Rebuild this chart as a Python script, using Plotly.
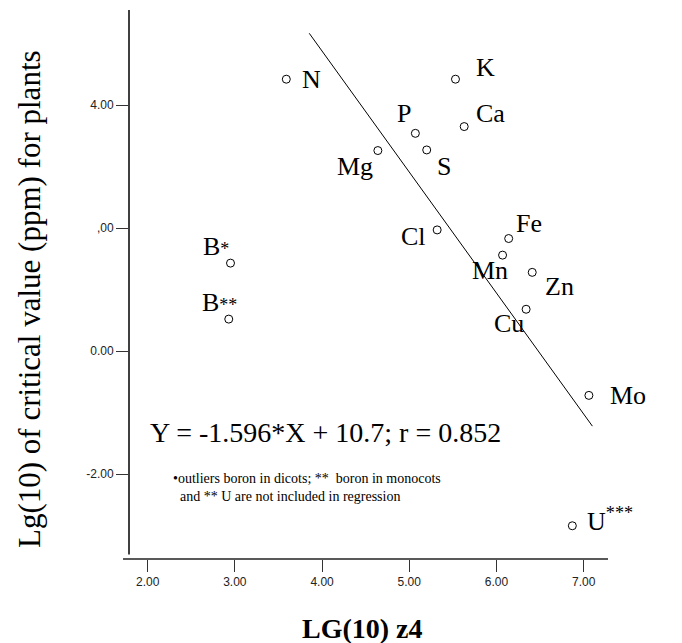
import plotly.graph_objects as go

# ---- data ----
elements = ["N", "K", "Ca", "P", "Mg", "S", "Cl", "Fe", "Mn", "Zn", "Cu", "Mo", "U", "B*", "B**"]
lg_z4 = [3.59, 5.53, 5.63, 5.07, 4.64, 5.20, 5.32, 6.14, 6.07, 6.41, 6.34, 7.06, 6.87, 2.95, 2.93]
lg_crit = [4.42, 4.42, 3.65, 3.54, 3.26, 3.27, 1.97, 1.83, 1.56, 1.28, 0.68, -0.72, -2.84, 1.43, 0.52]
label_text = ["N", "K", "Ca", "P", "Mg", "S", "Cl", "Fe", "Mn", "Zn", "Cu", "Mo",
              "U<sup>***</sup>",
              "B<span style='font-size:18px'>*</span>",
              "B<span style='font-size:18px'>**</span>"]

# regression line endpoints as drawn
reg_x = [3.853, 7.10]
reg_y = [5.166, -1.22]

x_tickvals = [2, 3, 4, 5, 6, 7]
x_ticktext = ["2.00", "3.00", "4.00", "5.00", "6.00", "7.00"]
y_tickvals = [4, 2, 0, -2]
y_ticktext = ["4.00", ",00", "0.00", "-2.00"]

equation_text = "Y = -1.596*X + 10.7; r = 0.852"
footnote_text = "•outliers boron in dicots; **  boron in monocots<br>  and ** U are not included in regression"

# ---- label placement (style only) ----
label_pos = {
    "N": ("left", 14, 0), "K": ("left", 19, 12), "Ca": ("left", 10, 13),
    "P": ("center", -11, 20), "Mg": ("right", -3, -16), "S": ("left", 8, -17),
    "Cl": ("right", -9, -7), "Fe": ("left", 5, 15), "Mn": ("right", 7, -15),
    "Zn": ("left", 11, -14), "Cu": ("right", 0, -14), "Mo": ("left", 19, 0),
    "U": ("left", 13, 6), "B*": ("left", -30, 17), "B**": ("left", -29, 17),
}

SERIF = "Liberation Serif"
SANS = "Liberation Sans"

fig = go.Figure()
fig.add_trace(go.Scatter(x=reg_x, y=reg_y, mode="lines",
                         line=dict(color="black", width=1), hoverinfo="skip"))
fig.add_trace(go.Scatter(x=lg_z4, y=lg_crit, mode="markers",
                         marker=dict(symbol="circle-open", size=8,
                                     line=dict(color="black", width=1), color="black"),
                         text=elements))

annotations = []
for name, xv, yv, lt in zip(elements, lg_z4, lg_crit, label_text):
    anc, dx, dy = label_pos[name]
    annotations.append(dict(x=xv, y=yv, xref="x", yref="y", text=lt, showarrow=False,
                            xanchor=anc, yanchor="middle", xshift=dx, yshift=dy,
                            font=dict(family=SERIF, size=26, color="black")))

annotations.append(dict(x=4.045, y=-1.33, xref="x", yref="y",
                        text=equation_text, showarrow=False,
                        xanchor="center", yanchor="middle",
                        font=dict(family=SERIF, size=28, color="black")))
annotations.append(dict(x=2.27, y=-2.21, xref="x", yref="y",
                        text=footnote_text,
                        showarrow=False, xanchor="left", yanchor="middle", align="left",
                        font=dict(family=SERIF, size=14, color="black")))
annotations.append(dict(x=-0.2067, y=0.4736, xref="paper", yref="paper",
                        text="Lg(10) of critical value (ppm) for plants", textangle=-90,
                        showarrow=False, xanchor="center", yanchor="middle",
                        font=dict(family=SERIF, size=31, color="black")))
annotations.append(dict(x=0.4885, y=-0.1257, xref="paper", yref="paper",
                        text="<b>LG(10) z4</b>", showarrow=False,
                        xanchor="center", yanchor="middle",
                        font=dict(family=SERIF, size=28, color="black")))

# page body has an 8px margin: compensate so the plot area lands at x 129-608, y 10-559
fig.update_layout(
    width=674, height=635,
    margin=dict(l=121, r=74, t=2, b=84),
    plot_bgcolor="white", paper_bgcolor="white",
    showlegend=False,
    annotations=annotations,
    shapes=[
        dict(type="line", xref="paper", yref="paper", x0=-0.0125, x1=1.0, y0=0, y1=0,
             line=dict(color="#222", width=1.5)),
        dict(type="line", xref="paper", yref="paper", x0=0, x1=0, y0=0.008, y1=1.0,
             line=dict(color="black", width=1.5)),
    ],
    xaxis=dict(range=[1.786, 7.279], tickvals=x_tickvals, ticktext=x_ticktext,
               showgrid=False, zeroline=False, showline=False,
               ticks="outside", ticklen=12, tickwidth=1, tickcolor="#333",
               tickfont=dict(family=SANS, size=12, color="#222")),
    yaxis=dict(range=[-3.38, 5.545], tickvals=y_tickvals, ticktext=y_ticktext,
               showgrid=False, zeroline=False, showline=False,
               ticks="outside", ticklen=12, tickwidth=1, tickcolor="#333",
               tickfont=dict(family=SANS, size=12, color="#222")),
)

fig.write_html("out.html")
